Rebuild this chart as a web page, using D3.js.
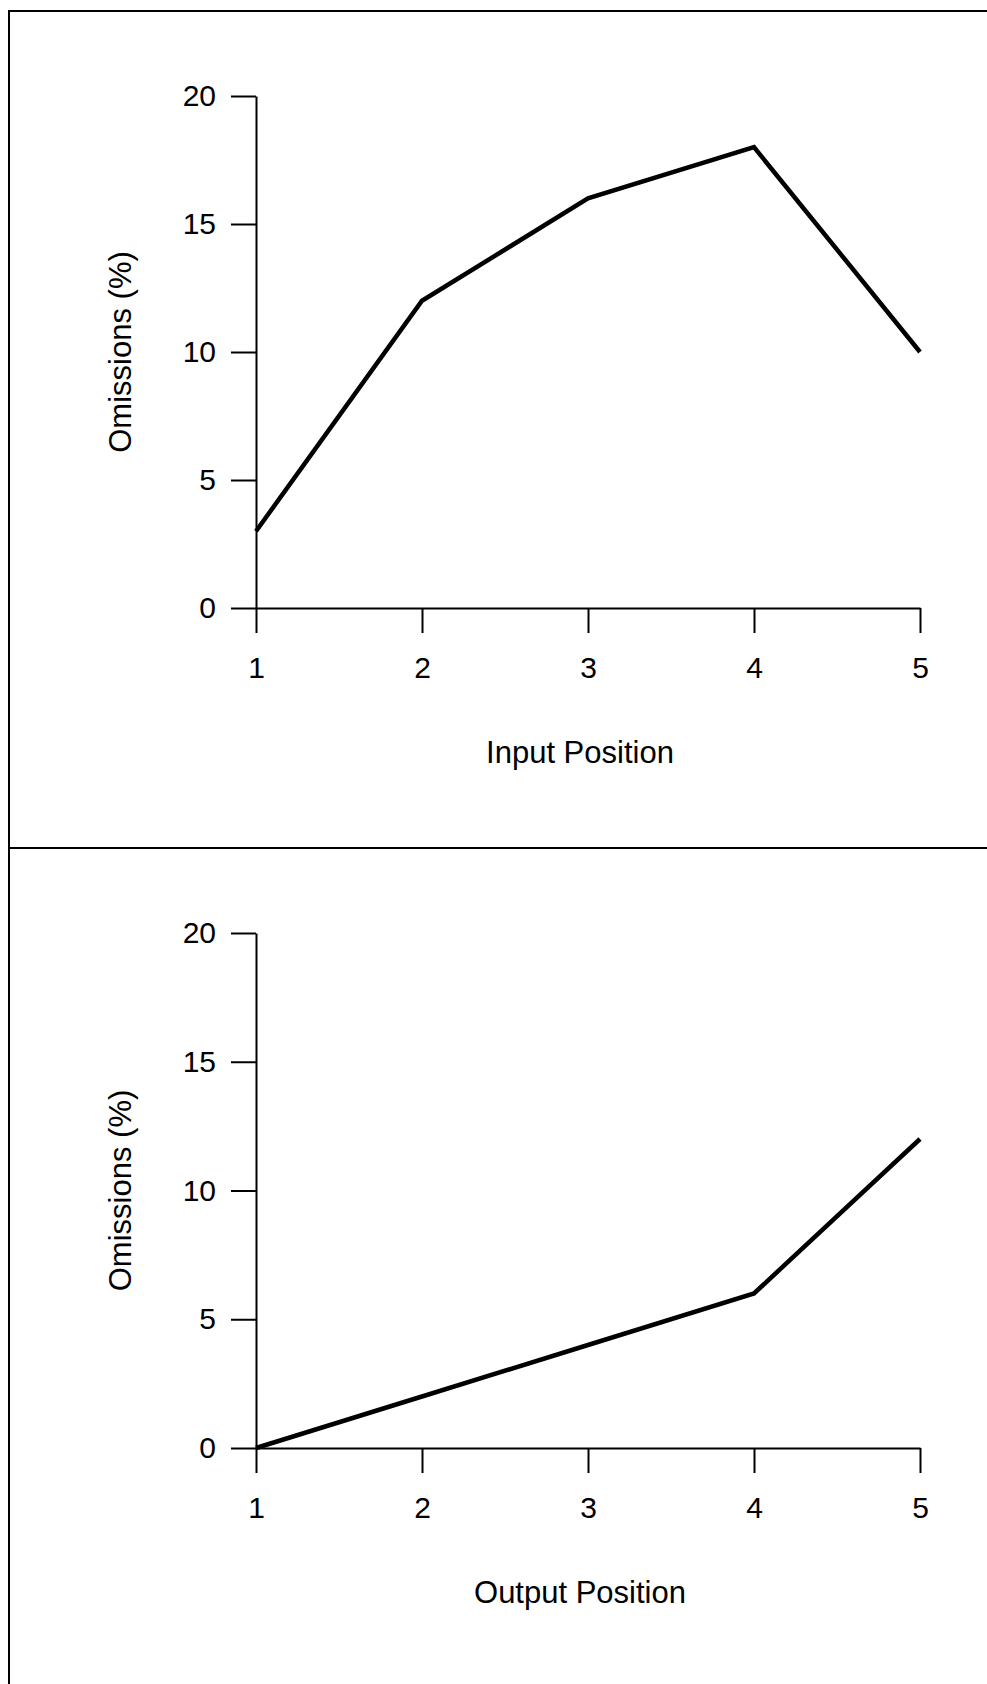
<!DOCTYPE html>
<html>
  <head>
    <meta charset="utf-8" />
    <title>Omissions by position</title>
    <style>
      body { margin: 0; background: #fff; }
      text { font-family: "Liberation Sans", Arial, sans-serif; fill: #000; }
    </style>
  </head>
  <body>
  <div id="container"></div>
  <script src="https://cdn.jsdelivr.net/npm/d3@7/dist/d3.min.js"></script>
  <script type="text/javascript">

    // serial positions 1..5
    var positions = [1, 2, 3, 4, 5];
    // omission rates (%)
    var inputOmissions = [3, 12, 16, 18, 10];
    var outputOmissions = [0, 2, 4, 6, 12];
    var yTicks = [0, 5, 10, 15, 20];
    var xTitles = ['Input Position', 'Output Position'];
    var yTitle = 'Omissions (%)';

    var width = 987;
    var height = 1684;

    var svg = d3.select('#container').append('svg')
      .attr('width', width).attr('height', height);

    // frame: left + top edge, and the divider between panels
    svg.append('line').attr('x1', 9).attr('x2', 9).attr('y1', 10).attr('y2', height)
      .attr('stroke', '#000').attr('stroke-width', 2);
    svg.append('line').attr('x1', 8).attr('x2', width).attr('y1', 11).attr('y2', 11)
      .attr('stroke', '#000').attr('stroke-width', 2);
    svg.append('line').attr('x1', 8).attr('x2', width).attr('y1', 848).attr('y2', 848)
      .attr('stroke', '#000').attr('stroke-width', 2);

    var x = d3.scaleLinear().domain([1, 5]).range([256, 920]);

    // one panel per series
    var panels = [
      { values: inputOmissions, title: xTitles[0], y0: 608, y20: 96 },
      { values: outputOmissions, title: xTitles[1], y0: 1448, y20: 933 }
    ];

    panels.forEach(function(p){
      var y = d3.scaleLinear().domain([0, 20]).range([p.y0, p.y20]);
      var g = svg.append('g');

      var xAxis = d3.axisBottom(x).tickValues(positions).tickFormat(d3.format('d'))
        .tickSize(25).tickSizeOuter(0).tickPadding(24);
      var gx = g.append('g').attr('transform', 'translate(0,' + p.y0 + ')').call(xAxis);

      var yAxis = d3.axisLeft(y).tickValues(yTicks).tickFormat(d3.format('d'))
        .tickSize(25).tickSizeOuter(0).tickPadding(15);
      var gy = g.append('g').attr('transform', 'translate(' + x(1) + ',0)').call(yAxis);

      [gx, gy].forEach(function(a){
        a.selectAll('path, line').attr('stroke', '#000').attr('stroke-width', 2);
        a.selectAll('text').attr('font-size', 30).attr('fill', '#000')
          .attr('font-family', '"Liberation Sans", Arial, sans-serif');
      });
      gx.selectAll('text').attr('dy', '0.71em');

      g.append('text')
        .attr('x', 580).attr('y', p.y0 + 155)
        .attr('text-anchor', 'middle').attr('font-size', 31)
        .text(p.title);

      g.append('text')
        .attr('transform', 'translate(131,' + ((p.y0 + p.y20) / 2) + ') rotate(-90)')
        .attr('text-anchor', 'middle').attr('font-size', 31)
        .text(yTitle);

      var line = d3.line()
        .x(function(d, i){ return x(positions[i]); })
        .y(function(d){ return y(d); });

      g.append('path')
        .datum(p.values)
        .attr('d', line)
        .attr('fill', 'none')
        .attr('stroke', '#000')
        .attr('stroke-width', 4.5);
    });

  </script>
  </body>
</html>
